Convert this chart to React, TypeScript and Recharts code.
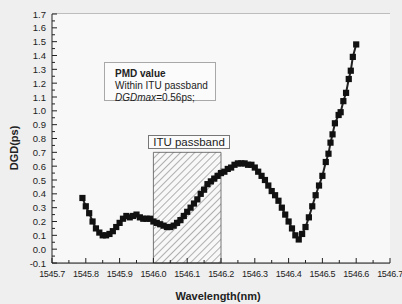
import React from 'react';
import { CartesianGrid, ReferenceArea, Scatter, ScatterChart, XAxis, YAxis } from 'recharts';

const wavelength = [
  1545.79, 1545.8, 1545.81, 1545.82, 1545.83, 1545.84, 1545.85, 1545.86, 1545.87, 1545.88,
  1545.89, 1545.9, 1545.91, 1545.92, 1545.93, 1545.94, 1545.95, 1545.96, 1545.97, 1545.98,
  1545.99, 1546.0, 1546.01, 1546.02, 1546.03, 1546.04, 1546.05, 1546.06, 1546.07, 1546.08,
  1546.09, 1546.1, 1546.11, 1546.12, 1546.13, 1546.14, 1546.15, 1546.16, 1546.17, 1546.18,
  1546.19, 1546.2, 1546.21, 1546.22, 1546.23, 1546.24, 1546.25, 1546.26, 1546.27, 1546.28,
  1546.29, 1546.3, 1546.31, 1546.32, 1546.33, 1546.34, 1546.35, 1546.36, 1546.37, 1546.38,
  1546.39, 1546.4, 1546.41, 1546.42, 1546.43, 1546.44, 1546.45, 1546.46, 1546.47, 1546.48,
  1546.49, 1546.5, 1546.51, 1546.518, 1546.524, 1546.53, 1546.537, 1546.548, 1546.554,
  1546.562, 1546.57, 1546.578, 1546.584, 1546.59, 1546.6,
];
const dgd = [
  0.37, 0.31, 0.26, 0.2, 0.15, 0.12, 0.1, 0.1, 0.11, 0.13,
  0.16, 0.19, 0.22, 0.24, 0.23, 0.24, 0.25, 0.23, 0.22, 0.22,
  0.22, 0.2, 0.19, 0.18, 0.17, 0.16, 0.16, 0.17, 0.19, 0.21,
  0.24, 0.27, 0.3, 0.33, 0.36, 0.4, 0.43, 0.47, 0.49, 0.51,
  0.53, 0.55, 0.56, 0.58, 0.59, 0.61, 0.62, 0.62, 0.62, 0.61,
  0.61, 0.59, 0.56, 0.53, 0.5, 0.46, 0.42, 0.39, 0.35, 0.3,
  0.25, 0.2, 0.15, 0.1, 0.07, 0.11, 0.16, 0.23, 0.31, 0.39,
  0.46, 0.53, 0.63, 0.69, 0.77, 0.83, 0.91, 0.97, 0.99,
  1.07, 1.13, 1.23, 1.29, 1.39, 1.48,
];

const xMajor = [1545.7, 1545.8, 1545.9, 1546.0, 1546.1, 1546.2, 1546.3, 1546.4, 1546.5, 1546.6, 1546.7];
const xMinor = [1545.75, 1545.85, 1545.95, 1546.05, 1546.15, 1546.25, 1546.35, 1546.45, 1546.55, 1546.65];
const yMajor = [-0.1, 0.0, 0.1, 0.2, 0.3, 0.4, 0.5, 0.6, 0.7, 0.8, 0.9, 1.0, 1.1, 1.2, 1.3, 1.4, 1.5, 1.6, 1.7];
const yMinor = [
  -0.05, 0.05, 0.15, 0.25, 0.35, 0.45, 0.55, 0.65, 0.75, 0.85, 0.95, 1.05, 1.15, 1.25, 1.35,
  1.45, 1.55, 1.65,
];

const passband = [1546.0, 1546.2];
const passbandTop = 0.7;

const W = 402;
const H = 304;
const PLOT = { left: 52, right: 390, top: 14, bottom: 263 };
const FONT = '"Liberation Sans", Arial, sans-serif';
const INK = '#222';

const points = wavelength.map((w, i) => ({ w, d: dgd[i] }));
const xTicks = [...xMajor, ...xMinor].sort((a, b) => a - b);
const yTicks = [...yMajor, ...yMinor].sort((a, b) => a - b);

const isMajor = (v: number, list: number[]) => list.some((m) => Math.abs(m - v) < 1e-6);

function BottomTick(props: any) {
  const { x, payload } = props;
  const major = isMajor(payload.value, xMajor);
  return (
    <g>
      <line x1={x} x2={x} y1={PLOT.bottom} y2={PLOT.bottom - (major ? 5 : 3)} stroke={INK} />
      {major && (
        <text
          x={x}
          y={PLOT.bottom + 14}
          textAnchor="middle"
          fontSize={9}
          letterSpacing={-0.3}
          fill={INK}
          fontFamily={FONT}
        >
          {payload.value.toFixed(1)}
        </text>
      )}
    </g>
  );
}

function TopTick(props: any) {
  const { x, payload } = props;
  const major = isMajor(payload.value, xMajor);
  return <line x1={x} x2={x} y1={PLOT.top} y2={PLOT.top + (major ? 5 : 3)} stroke={INK} />;
}

function LeftTick(props: any) {
  const { y, payload } = props;
  const major = isMajor(payload.value, yMajor);
  return (
    <g>
      <line x1={PLOT.left} x2={PLOT.left + (major ? 5 : 3)} y1={y} y2={y} stroke={INK} />
      {major && (
        <text x={PLOT.left - 6} y={y + 3.5} textAnchor="end" fontSize={9.5} fill={INK} fontFamily={FONT}>
          {payload.value.toFixed(1)}
        </text>
      )}
    </g>
  );
}

function RightTick(props: any) {
  const { y, payload } = props;
  const major = isMajor(payload.value, yMajor);
  return <line x1={PLOT.right} x2={PLOT.right - (major ? 5 : 3)} y1={y} y2={y} stroke={INK} />;
}

function SquareDot(props: any) {
  const { cx, cy } = props;
  return <rect x={cx - 3.1} y={cy - 3.1} width={6.2} height={6.2} fill="#111" />;
}

export default function App() {
  return (
    <div
      style={{
        position: 'fixed',
        left: 0,
        top: 0,
        width: W,
        height: H,
        background: '#efefef',
        fontFamily: FONT,
        color: INK,
      }}
    >
      <ScatterChart width={W} height={H} margin={{ top: PLOT.top, right: W - PLOT.right, bottom: 0, left: 0 }}>
        <defs>
          <pattern id="hatch" patternUnits="userSpaceOnUse" width={5} height={5} patternTransform="rotate(45)">
            <line x1={0} y1={0} x2={0} y2={5} stroke="#444" strokeWidth={0.8} />
          </pattern>
        </defs>
        <rect
          x={PLOT.left}
          y={PLOT.top}
          width={PLOT.right - PLOT.left}
          height={PLOT.bottom - PLOT.top}
          fill="#f8f8f8"
        />
        <CartesianGrid horizontalValues={yMinor} vertical={false} stroke="#c8c8c8" strokeDasharray="4 3" />
        <CartesianGrid horizontalValues={yMajor} vertical={false} stroke="#8a8a8a" />
        <XAxis
          dataKey="w"
          type="number"
          domain={[1545.7, 1546.7]}
          ticks={xTicks}
          interval={0}
          height={H - PLOT.bottom}
          axisLine={{ stroke: INK }}
          tickLine={false}
          tick={<BottomTick />}
          allowDataOverflow
        />
        <XAxis
          xAxisId="top"
          orientation="top"
          type="number"
          domain={[1545.7, 1546.7]}
          ticks={xTicks}
          interval={0}
          height={0}
          axisLine={{ stroke: INK }}
          tickLine={false}
          tick={<TopTick />}
        />
        <YAxis
          dataKey="d"
          type="number"
          domain={[-0.1, 1.7]}
          ticks={yTicks}
          interval={0}
          width={PLOT.left}
          axisLine={{ stroke: INK }}
          tickLine={false}
          tick={<LeftTick />}
          allowDataOverflow
        />
        <YAxis
          yAxisId="right"
          orientation="right"
          type="number"
          domain={[-0.1, 1.7]}
          ticks={yTicks}
          interval={0}
          width={0}
          axisLine={{ stroke: INK }}
          tickLine={false}
          tick={<RightTick />}
        />
        <ReferenceArea
          x1={passband[0]}
          x2={passband[1]}
          y1={-0.1}
          y2={passbandTop}
          fill="url(#hatch)"
          fillOpacity={1}
          stroke="#555"
          strokeWidth={0.8}
        />
        <Scatter
          data={points}
          shape={<SquareDot />}
          line={{ stroke: '#222', strokeWidth: 2 }}
          isAnimationActive={false}
        />
      </ScatterChart>

      <div
        style={{
          position: 'absolute',
          left: 104,
          top: 62,
          width: 112,
          height: 39,
          background: '#fbfbfb',
          border: '1px solid #a8a8a8',
          fontSize: 10,
          lineHeight: '12px',
          padding: '5px 0 0 10px',
          boxSizing: 'border-box',
        }}
      >
        <div style={{ fontWeight: 'bold' }}>PMD value</div>
        <div>Within ITU passband</div>
        <div>
          <i>DGDmax</i>=0.56ps;
        </div>
      </div>

      <div
        style={{
          position: 'absolute',
          left: 148,
          top: 135,
          width: 82,
          height: 14,
          background: '#fbfbfb',
          border: '1px solid #777',
          boxSizing: 'border-box',
          fontSize: 11.5,
          lineHeight: '12px',
          textAlign: 'center',
        }}
      >
        ITU passband
      </div>

      <div
        style={{
          position: 'absolute',
          left: 14,
          top: 148,
          transform: 'translate(-50%, -50%) rotate(-90deg)',
          fontSize: 11,
          fontWeight: 'bold',
          whiteSpace: 'nowrap',
        }}
      >
        DGD(ps)
      </div>
      <div
        style={{
          position: 'absolute',
          left: 218,
          top: 296,
          transform: 'translate(-50%, -50%)',
          fontSize: 11,
          fontWeight: 'bold',
          whiteSpace: 'nowrap',
        }}
      >
        Wavelength(nm)
      </div>
    </div>
  );
}
